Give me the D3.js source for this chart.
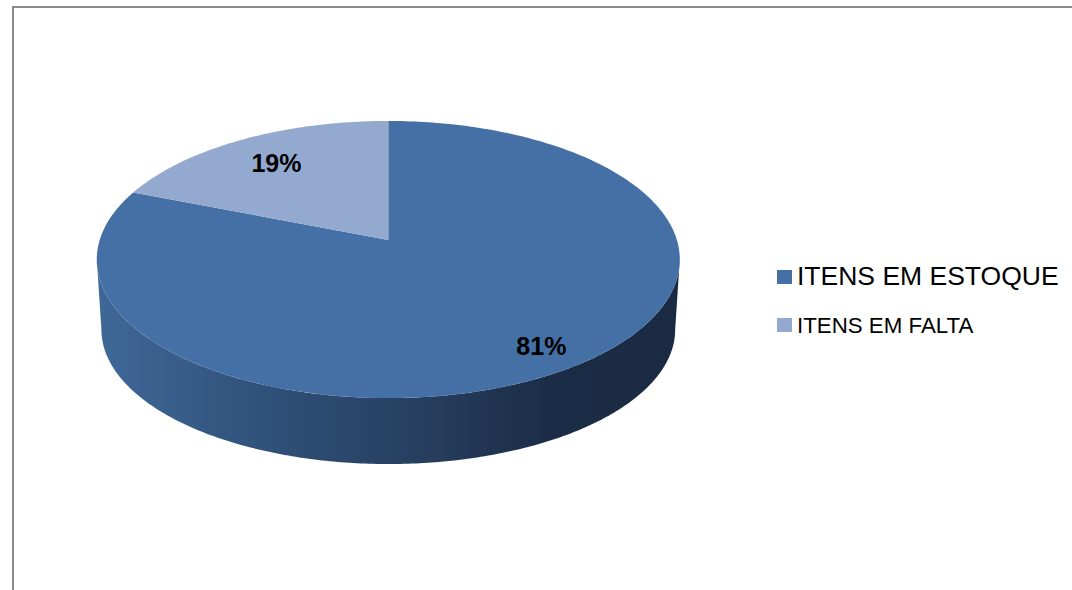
<!DOCTYPE html>
<html>
<head>
<meta charset="utf-8">
<script src="https://cdn.jsdelivr.net/npm/d3@7"></script>
<style>
  html, body { margin: 0; padding: 0; background: #fff; }
  svg { display: block; }
</style>
</head>
<body>
<svg id="chart" width="1072" height="590"></svg>
<script>
// ---- data ----
const categories = ["ITENS EM ESTOQUE", "ITENS EM FALTA"];
const values = [81, 19];
const labels = ["81%", "19%"];
const colors = ["#4570a6", "#93a9cf"];

// ---- layout ----
const W = 1072, H = 590;
const svg = d3.select("#chart");

// frame (top and left edges visible)
svg.append("rect")
  .attr("x", 13).attr("y", 7)
  .attr("width", W + 20).attr("height", H + 20)
  .attr("fill", "none").attr("stroke", "#8a8a8a").attr("stroke-width", 2);

// perspective projection of the pie disc
const cx = 388.3, cyTop = 240;
const A = 288.6, B = 135.8, k = 0.141;
const cyBot = 310.7, A2 = 284, B2 = 131.7;

function projTop(theta, r = 1) {
  const u = r * Math.sin(theta), v = r * Math.cos(theta);
  const d = 1 + k * v;
  return [cx + A * u / d, cyTop - B * v / d];
}
function projBot(theta, r = 1) {
  const u = r * Math.sin(theta), v = r * Math.cos(theta);
  const d = 1 + k * v;
  return [cx + A2 * u / d, cyBot - B2 * v / d];
}

const pie = d3.pie().sort(null).startAngle(0).endAngle(2 * Math.PI);
const arcs = pie(values);

// side gradient
const defs = svg.append("defs");
const grad = defs.append("linearGradient")
  .attr("id", "sideGrad").attr("gradientUnits", "userSpaceOnUse")
  .attr("x1", 97).attr("y1", 0).attr("x2", 680).attr("y2", 0);
[["0%", "#3f6898"], ["30%", "#2f5078"], ["55%", "#273f5f"], ["78%", "#1b2c46"], ["100%", "#1a2a42"]]
  .forEach(([o, c]) => grad.append("stop").attr("offset", o).attr("stop-color", c));

// visible side: between the two silhouette angles (cos θ = -k), across the front
const thR = Math.acos(-k);            // right silhouette
const thL = 2 * Math.PI - thR;        // left silhouette
const N = 240;
const sidePts = [];
for (let i = 0; i <= N; i++) sidePts.push(projTop(thR + (thL - thR) * i / N));
for (let i = N; i >= 0; i--) sidePts.push(projBot(thR + (thL - thR) * i / N));
const line = d3.line();
svg.append("path")
  .attr("d", line(sidePts) + "Z")
  .attr("fill", "url(#sideGrad)");

// top faces
arcs.forEach((a, i) => {
  const pts = [projTop(0, 0)];
  const n = Math.max(8, Math.ceil((a.endAngle - a.startAngle) / (Math.PI / 180)));
  for (let j = 0; j <= n; j++) {
    pts.push(projTop(a.startAngle + (a.endAngle - a.startAngle) * j / n));
  }
  svg.append("path")
    .attr("d", line(pts) + "Z")
    .attr("fill", colors[i]);
});

// data labels
const labelR = [0.85, 0.75];
arcs.forEach((a, i) => {
  const mid = (a.startAngle + a.endAngle) / 2;
  const [x, y] = projTop(mid, labelR[i]);
  svg.append("text")
    .attr("x", x).attr("y", y)
    .attr("text-anchor", "middle").attr("dominant-baseline", "central")
    .attr("font-family", "Liberation Sans, Arial, sans-serif")
    .attr("font-weight", "bold").attr("font-size", 25)
    .attr("fill", "#000")
    .text(labels[i]);
});

// legend
const legendY = [270, 318];
const legendFont = [26.5, 22.3];
const legendBase = [285, 332.5];
categories.forEach((c, i) => {
  svg.append("rect")
    .attr("x", 777).attr("y", legendY[i])
    .attr("width", 15).attr("height", 14)
    .attr("fill", colors[i]);
  svg.append("text")
    .attr("x", 797).attr("y", legendBase[i])
    .attr("font-family", "Liberation Sans, Arial, sans-serif")
    .attr("font-size", legendFont[i])
    .attr("fill", "#000")
    .text(c);
});
</script>
</body>
</html>
